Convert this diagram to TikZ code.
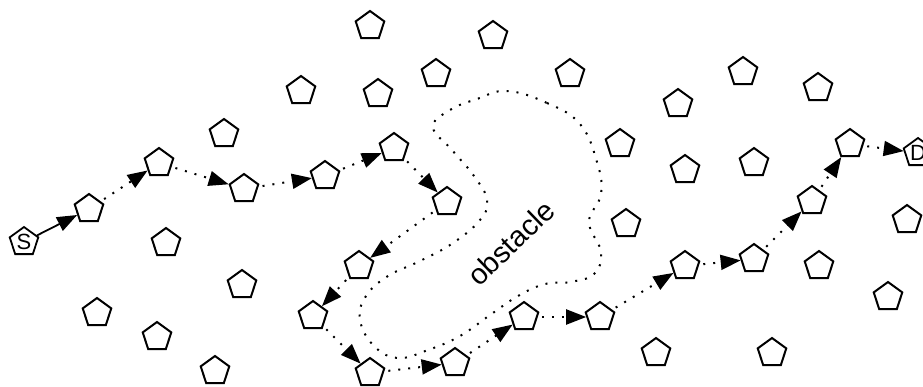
\documentclass[tikz,border=0pt]{standalone}
\usepackage{fontspec}
\setmainfont{Liberation Sans}
\usetikzlibrary{shapes.geometric,arrows.meta}
\begin{document}
\begin{tikzpicture}[x=1pt,y=-1pt,
  pent/.style={draw, regular polygon, regular polygon sides=5, minimum size=30pt, inner sep=0pt, line width=2pt},
  endpent/.style={draw, regular polygon, regular polygon sides=5, minimum size=30pt, inner sep=0pt, line width=1.8pt, font=\fontsize{22}{22}\selectfont},
  hop/.style={line width=2pt, dash pattern=on 2pt off 8pt, dash phase=-4pt, -{Triangle[length=20pt,width=15pt]}},
  firsthop/.style={line width=1.8pt, -{Triangle[length=20pt,width=15pt]}},
  obst/.style={line width=2pt, dash pattern=on 2pt off 8pt}]
\useasboundingbox (0,0) rectangle (923,386);
% route nodes
\node[endpent] (S) at (24,242) {S};
\node[pent] (p1) at (89,209) {};
\node[pent] (p2) at (159,163) {};
\node[pent] (p3) at (244,189) {};
\node[pent] (p4) at (325,176) {};
\node[pent] (p5) at (394,148) {};
\node[pent] (p6) at (447,202) {};
\node[pent] (p7) at (359,266) {};
\node[pent] (p8) at (313,316) {};
\node[pent] (p9) at (370,373) {};
\node[pent] (p10) at (455,363) {};
\node[pent] (p11) at (524,317) {};
\node[pent] (p12) at (600,317) {};
\node[pent] (p13) at (685,266) {};
\node[pent] (p14) at (754,259) {};
\node[pent] (p15) at (812,201) {};
\node[pent] (p16) at (850,144) {};
\node[endpent] (D) at (918,153) {D};
% other nodes
\node[pent] (q1) at (370,26) {};
\node[pent] (q2) at (493,36) {};
\node[pent] (q3) at (301,91) {};
\node[pent] (q4) at (378,94) {};
\node[pent] (q5) at (436,74) {};
\node[pent] (q6) at (570,74) {};
\node[pent] (q7) at (678,104) {};
\node[pent] (q8) at (743,72) {};
\node[pent] (q9) at (818,88) {};
\node[pent] (q10) at (224,134) {};
\node[pent] (q11) at (620,144) {};
\node[pent] (q12) at (685,170) {};
\node[pent] (q13) at (754,163) {};
\node[pent] (q14) at (626,224) {};
\node[pent] (q15) at (907,220) {};
\node[pent] (q16) at (819,266) {};
\node[pent] (q17) at (888,297) {};
\node[pent] (q18) at (166,243) {};
\node[pent] (q19) at (242,285) {};
\node[pent] (q20) at (97,313) {};
\node[pent] (q21) at (157,337) {};
\node[pent] (q22) at (215,371) {};
\node[pent] (q23) at (656,353) {};
\node[pent] (q24) at (772,353) {};
% obstacle
\draw[obst] plot[smooth cycle, tension=0.7] coordinates {
 (507,91) (547,103) (580,124) (597,162) (601,194) (589,222) (601,252) (594,274)
 (570,282) (545,284) (518,296) (490,315) (460,336) (428,350) (398,358) (374,346)
 (360,320) (366,296) (388,276) (420,261) (453,243) (480,220) (487,200) (474,176)
 (452,150) (433,127) (450,110) (477,99)};
\node[rotate=44, font=\fontsize{29}{29}\selectfont] (lbl) at (511,243) {obstacle};
% route
\draw[firsthop] (S) -- (p1);
\draw[hop] (p1) -- (p2);
\draw[hop] (p2) -- (p3);
\draw[hop] (p3) -- (p4);
\draw[hop] (p4) -- (p5);
\draw[hop] (p5) -- (p6);
\draw[hop] (p6) -- (p7);
\draw[hop] (p7) -- (p8);
\draw[hop] (p8) -- (p9);
\draw[hop] (p9) -- (p10);
\draw[hop] (p10) -- (p11);
\draw[hop] (p11) -- (p12);
\draw[hop] (p12) -- (p13);
\draw[hop] (p13) -- (p14);
\draw[hop] (p14) -- (p15);
\draw[hop] (p15) -- (p16);
\draw[hop] (p16) -- (D);
\end{tikzpicture}
\end{document}
